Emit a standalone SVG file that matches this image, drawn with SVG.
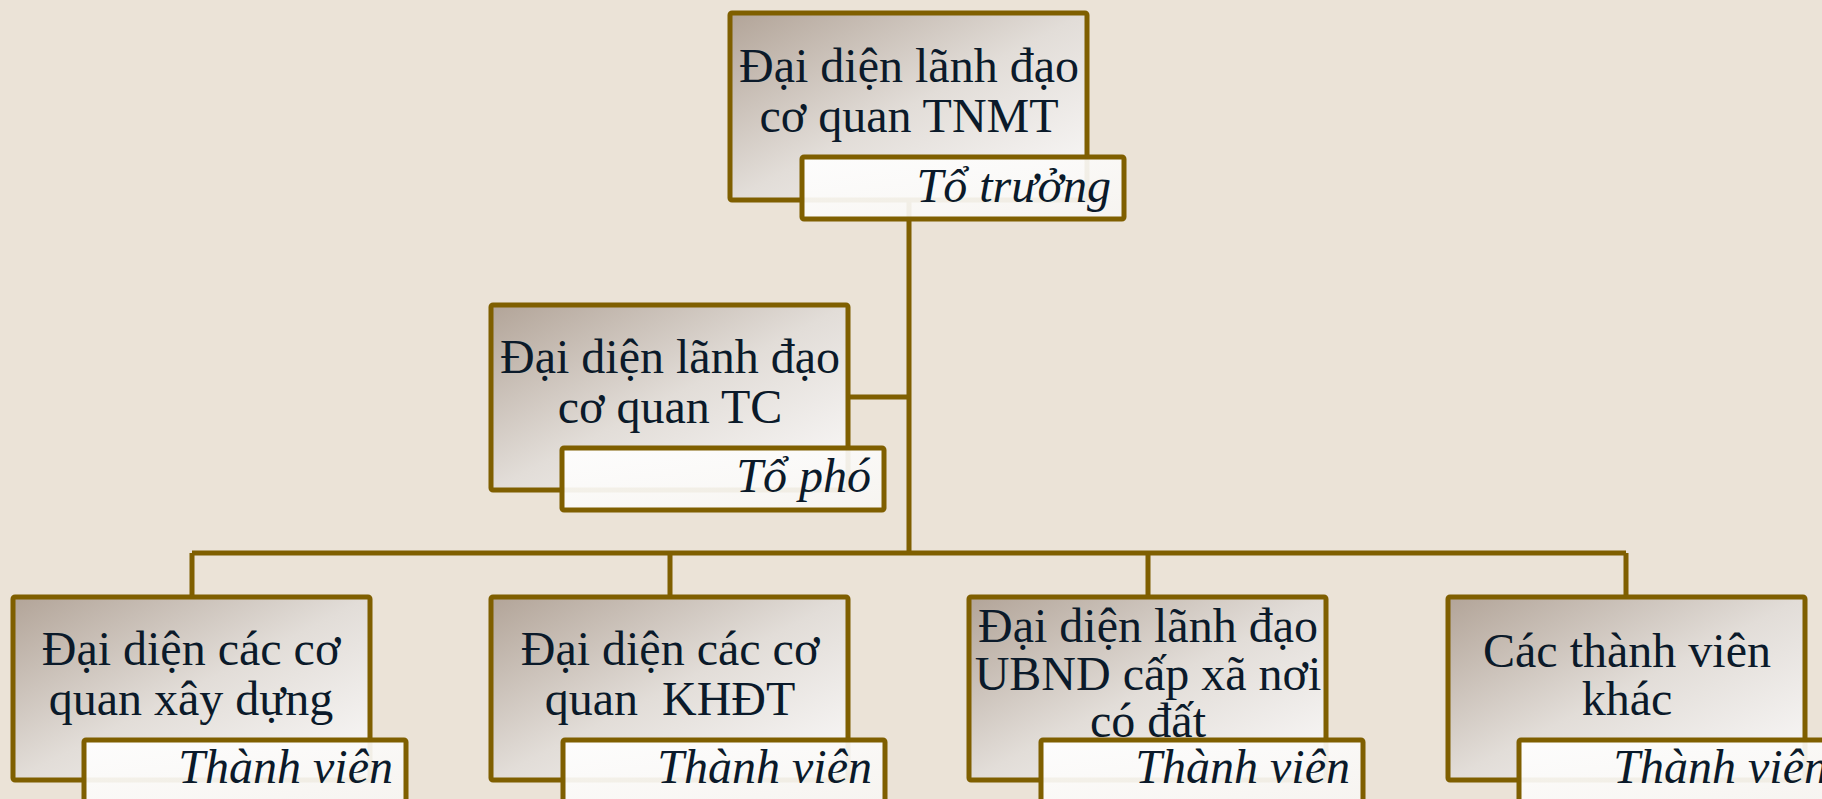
<svg xmlns="http://www.w3.org/2000/svg" width="1822" height="799" viewBox="0 0 1822 799">
<defs>
<linearGradient id="g" x1="0" y1="0" x2="1" y2="1">
<stop offset="0" stop-color="#b2a498"/>
<stop offset="0.5" stop-color="#e2ddd8"/>
<stop offset="1" stop-color="#fbfafa"/>
</linearGradient>
<linearGradient id="w" x1="0" y1="0" x2="1" y2="1">
<stop offset="0" stop-color="#ffffff"/>
<stop offset="1" stop-color="#f7f5f2"/>
</linearGradient>
<style>
.box{fill:url(#g);stroke:#7f5f00;stroke-width:5}
.sub{fill:url(#w);fill-opacity:0.93;stroke:#7f5f00;stroke-width:5}
.t{font-family:"Liberation Serif","Times New Roman",serif;font-size:48px;fill:#0b1a2a;text-anchor:middle}
.s{font-family:"Liberation Serif","Times New Roman",serif;font-size:48px;font-style:italic;fill:#0b1a2a;text-anchor:end}
.c{stroke:#7f5f00;stroke-width:5;fill:none}
</style>
</defs>
<rect width="1822" height="799" fill="#ebe3d7"/>
<g id="connectors">
<path class="c" d="M909 200 V553"/>
<path class="c" d="M848 397 H909"/>
<path class="c" d="M192 553 H1626"/>
<path class="c" d="M192 553 V597 M670 553 V597 M1148 553 V597 M1626 553 V597"/>
</g>
<g id="n-totruong">
<rect class="box" x="730" y="13" width="357" height="187" rx="2"/>
<text class="t" x="909" y="82">Đại diện lãnh đạo</text>
<text class="t" x="909" y="132">cơ quan TNMT</text>
<rect class="sub" x="802" y="157" width="322" height="62" rx="2"/>
<text class="s" x="1111" y="202">Tổ trưởng</text>
</g>
<g id="n-topho">
<rect class="box" x="491" y="305" width="357" height="185" rx="2"/>
<text class="t" x="670" y="373">Đại diện lãnh đạo</text>
<text class="t" x="670" y="423">cơ quan TC</text>
<rect class="sub" x="562" y="448" width="322" height="62" rx="2"/>
<text class="s" x="871" y="492">Tổ phó</text>
</g>
<g id="n-xaydung">
<rect class="box" x="13" y="597" width="357" height="183" rx="2"/>
<text class="t" x="191" y="665">Đại diện các cơ</text>
<text class="t" x="191" y="715">quan xây dựng</text>
<rect class="sub" x="84" y="740" width="322" height="62" rx="2"/>
<text class="s" x="393" y="783">Thành viên</text>
</g>
<g id="n-khdt">
<rect class="box" x="491" y="597" width="357" height="183" rx="2"/>
<text class="t" x="670" y="665">Đại diện các cơ</text>
<text class="t" x="670" y="715" xml:space="preserve">quan  KHĐT</text>
<rect class="sub" x="563" y="740" width="322" height="62" rx="2"/>
<text class="s" x="872" y="783">Thành viên</text>
</g>
<g id="n-ubnd">
<rect class="box" x="969" y="597" width="357" height="183" rx="2"/>
<text class="t" x="1148" y="642">Đại diện lãnh đạo</text>
<text class="t" x="1148" y="690">UBND cấp xã nơi</text>
<text class="t" x="1148" y="737">có đất</text>
<rect class="sub" x="1041" y="740" width="322" height="62" rx="2"/>
<text class="s" x="1350" y="783">Thành viên</text>
</g>
<g id="n-khac">
<rect class="box" x="1448" y="597" width="357" height="183" rx="2"/>
<text class="t" x="1627" y="667">Các thành viên</text>
<text class="t" x="1627" y="715">khác</text>
<rect class="sub" x="1519" y="740" width="322" height="62" rx="2"/>
<text class="s" x="1828" y="783">Thành viên</text>
</g>
</svg>
